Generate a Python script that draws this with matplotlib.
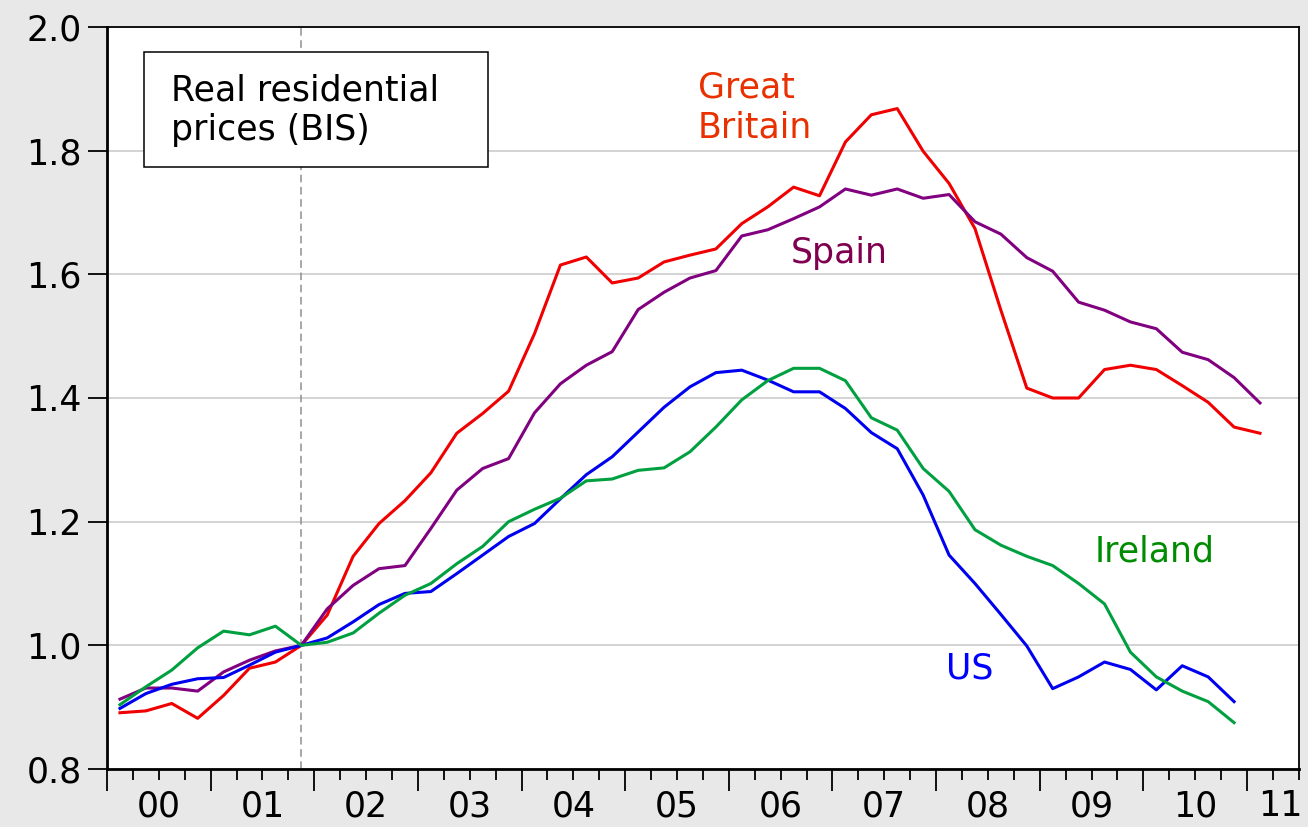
import numpy as np
import matplotlib
matplotlib.use("Agg")
import matplotlib.pyplot as plt
from matplotlib.patches import Rectangle

# quarterly index, 2001Q4 = 1.0, starting 2000Q1
great_britain = [0.891, 0.894, 0.906, 0.882, 0.919, 0.963, 0.973, 1.000,
                 1.049, 1.144, 1.197, 1.234, 1.279, 1.343, 1.375, 1.411,
                 1.504, 1.615, 1.628, 1.586, 1.594, 1.620, 1.631, 1.641,
                 1.682, 1.709, 1.741, 1.727, 1.814, 1.858, 1.868, 1.799,
                 1.747, 1.674, 1.542, 1.416, 1.400, 1.400, 1.446, 1.453,
                 1.446, 1.420, 1.393, 1.353, 1.343]
spain = [0.913, 0.931, 0.931, 0.926, 0.957, 0.976, 0.991, 1.000,
         1.059, 1.097, 1.124, 1.129, 1.189, 1.251, 1.286, 1.302,
         1.376, 1.423, 1.453, 1.475, 1.543, 1.571, 1.594, 1.606,
         1.662, 1.672, 1.690, 1.709, 1.738, 1.728, 1.738, 1.723,
         1.729, 1.685, 1.665, 1.627, 1.605, 1.555, 1.542, 1.523,
         1.512, 1.474, 1.462, 1.433, 1.392]
us = [0.898, 0.922, 0.937, 0.946, 0.948, 0.968, 0.989, 1.000,
      1.012, 1.038, 1.066, 1.084, 1.087, 1.116, 1.146, 1.176,
      1.197, 1.237, 1.276, 1.305, 1.345, 1.385, 1.418, 1.441,
      1.445, 1.429, 1.410, 1.410, 1.383, 1.344, 1.318, 1.243,
      1.146, 1.100, 1.050, 0.999, 0.930, 0.949, 0.973, 0.961,
      0.928, 0.967, 0.949, 0.909]
ireland = [0.904, 0.933, 0.960, 0.996, 1.023, 1.017, 1.031, 1.000,
           1.005, 1.020, 1.052, 1.081, 1.100, 1.132, 1.160, 1.200,
           1.220, 1.238, 1.266, 1.269, 1.283, 1.287, 1.313, 1.353,
           1.397, 1.428, 1.448, 1.448, 1.428, 1.368, 1.348, 1.286,
           1.249, 1.187, 1.162, 1.144, 1.129, 1.100, 1.067, 0.989,
           0.949, 0.926, 0.909, 0.875]
year_labels = ["00", "01", "02", "03", "04", "05", "06", "07", "08", "09", "10", "11"]

plt.rcParams['font.family'] = ['DejaVu Sans']
FS = 25

fig = plt.figure(figsize=(13.08, 8.27), dpi=100, facecolor="#e8e8e8")
ax = fig.add_axes([0.0818, 0.0701, 0.9112, 0.8973])
ax.set_facecolor("white")

# x in quarters since 2000Q1, points drawn mid-quarter
def qx(series):
    return np.arange(len(series)) + 0.5

ax.plot(qx(great_britain), great_britain, color="#f00000", lw=2.2)
ax.plot(qx(spain), spain, color="#800080", lw=2.2)
ax.plot(qx(us), us, color="#0000f0", lw=2.2)
ax.plot(qx(ireland), ireland, color="#00a040", lw=2.2)

ax.axvline(7.5, color="#909090", lw=1.1, ls=(0, (5, 3)), zorder=1)

ax.set_xlim(0, 46)
ax.set_ylim(0.8, 2.0)
ax.set_yticks(np.arange(0.8, 2.01, 0.2))
ax.set_yticklabels(["%.1f" % v for v in np.arange(0.8, 2.01, 0.2)])
ax.grid(axis="y", color="#cccccc", lw=1.2)
ax.set_axisbelow(True)

ax.set_xticks(np.arange(0, 47, 4))
ax.set_xticklabels([])
ax.set_xticks(np.arange(0, 47, 1), minor=True)
ax.tick_params(axis="x", which="major", length=16, width=1.3, direction="out")
ax.tick_params(axis="x", which="minor", length=8, width=1.3, direction="out")
ax.tick_params(axis="y", length=14, width=1.3, labelsize=FS, pad=4)
for k, lab in enumerate(year_labels):
    pos = 4 * k + 2 if k < len(year_labels) - 1 else 45.3
    ax.text(pos, -0.05, lab, transform=ax.get_xaxis_transform(),
            ha="center", va="center", fontsize=FS)

for side in ["left", "bottom"]:
    ax.spines[side].set_linewidth(2)
for side in ["top", "right"]:
    ax.spines[side].set_linewidth(1.3)

# title box
ax.add_patch(Rectangle((0.031, 0.811), 0.289, 0.155, transform=ax.transAxes,
                       fc="white", ec="black", lw=1.1, zorder=3))
ax.text(0.054, 0.888, "Real residential\nprices (BIS)", transform=ax.transAxes,
        ha="left", va="center", fontsize=FS, linespacing=1.2, zorder=4)

ax.text(22.8, 1.870, "Great\nBritain", color="#e83000", fontsize=FS,
        ha="left", va="center", linespacing=1.2)
ax.text(26.4, 1.635, "Spain", color="#800050", fontsize=FS, ha="left", va="center")
ax.text(32.4, 0.963, "US", color="#0000ff", fontsize=FS, ha="left", va="center")
ax.text(38.1, 1.151, "Ireland", color="#008c00", fontsize=FS, ha="left", va="center")

fig.savefig("out.png", dpi=100, facecolor=fig.get_facecolor())
